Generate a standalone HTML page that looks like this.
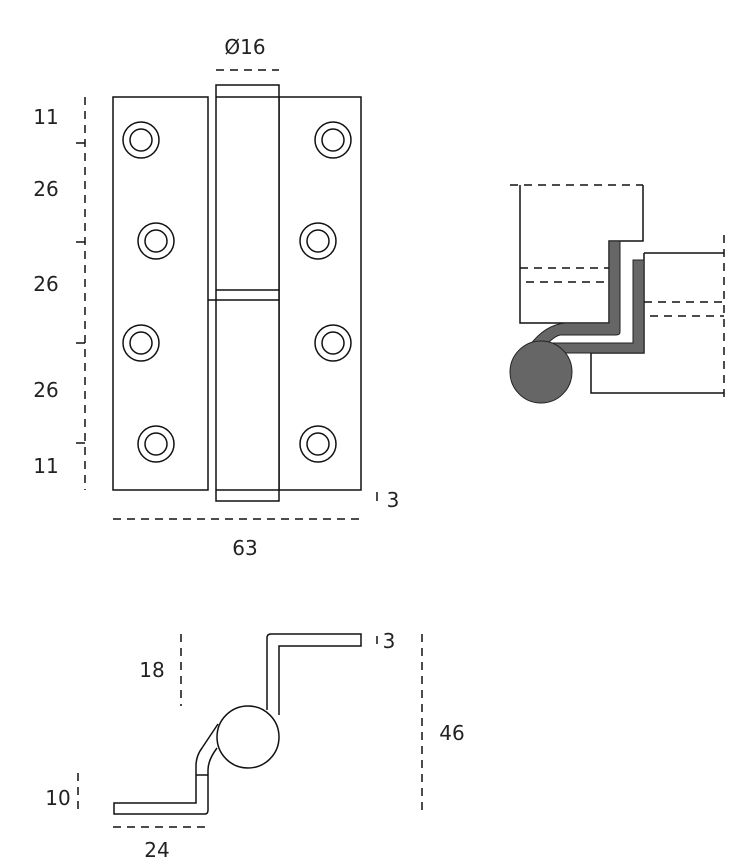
<!DOCTYPE html>
<html><head><meta charset="utf-8"><style>
html,body{margin:0;padding:0;background:#fff;}
svg{display:block;}
text{font-family:"DejaVu Sans","Liberation Sans",sans-serif;font-size:20px;fill:#222;}
</style></head><body>
<svg width="740" height="864" viewBox="0 0 740 864" xmlns="http://www.w3.org/2000/svg">
<g fill="none" stroke="#111" stroke-width="1.5">
<!-- front view -->
<rect x="113" y="97" width="95" height="393"/>
<rect x="279" y="97" width="82" height="393"/>
<rect x="216" y="85" width="63" height="416" fill="#fff"/>
<line x1="216" y1="290" x2="279" y2="290"/>
<line x1="208" y1="300" x2="279" y2="300"/>
<line x1="216" y1="97" x2="279" y2="97"/>
<line x1="216" y1="490" x2="279" y2="490"/>
<g>
<circle cx="141" cy="140" r="18"/><circle cx="141" cy="140" r="11"/>
<circle cx="156" cy="241" r="18"/><circle cx="156" cy="241" r="11"/>
<circle cx="141" cy="343" r="18"/><circle cx="141" cy="343" r="11"/>
<circle cx="156" cy="444" r="18"/><circle cx="156" cy="444" r="11"/>
<circle cx="333" cy="140" r="18"/><circle cx="333" cy="140" r="11"/>
<circle cx="318" cy="241" r="18"/><circle cx="318" cy="241" r="11"/>
<circle cx="333" cy="343" r="18"/><circle cx="333" cy="343" r="11"/>
<circle cx="318" cy="444" r="18"/><circle cx="318" cy="444" r="11"/>
</g>
<g stroke-dasharray="8,6">
<line x1="85" y1="97" x2="85" y2="490"/>
<line x1="216" y1="70" x2="279" y2="70"/>
<line x1="113" y1="519" x2="361" y2="519"/>
</g>
<line x1="76" y1="143" x2="85" y2="143"/>
<line x1="76" y1="242" x2="85" y2="242"/>
<line x1="76" y1="343" x2="85" y2="343"/>
<line x1="76" y1="443" x2="85" y2="443"/>
<line x1="377" y1="492" x2="377" y2="501"/>

<!-- side view -->
<path d="M520 185 V323 H609 V241 H643 V185"/>
<path d="M644 253 H724 M644 253 V353 H591 V393 H724"/>
<g stroke-dasharray="8,6">
<line x1="510" y1="185" x2="643" y2="185"/>
<line x1="520" y1="268" x2="609" y2="268"/>
<line x1="526" y1="282" x2="609" y2="282"/>
<line x1="644" y1="302" x2="724" y2="302"/>
<line x1="650" y1="316" x2="724" y2="316"/>
<line x1="724" y1="235" x2="724" y2="402"/>
</g>
</g>
<g fill="#666" stroke="#222" stroke-width="1">
<path d="M609 241 H620 V332 Q620 335 616 335 H560 Q555 336 548 343 L530 345 Q545 325 565 323 H609 Z"/>
<path d="M633 260 H644 V353 H563 L553 343 H633 Z"/>
<circle cx="541" cy="372" r="31"/>
</g>

<!-- bottom view -->
<g fill="none" stroke="#111" stroke-width="1.5">
<path d="M279 715 V646 H361 V634 H271 Q267 634 267 638 V710"/>
<circle cx="248" cy="737" r="31"/>
<path d="M218 724 L202 748 Q196 756 196 766 V803 H114 V814 H205 Q208 814 208 810 V770 Q208 760 217 748"/>
<line x1="196" y1="775" x2="208" y2="775"/>
<g stroke-dasharray="8,6">
<line x1="181" y1="634" x2="181" y2="706"/>
<line x1="422" y1="634" x2="422" y2="815"/>
<line x1="78" y1="773" x2="78" y2="815"/>
<line x1="113" y1="827" x2="205" y2="827"/>
</g>
<line x1="377" y1="636" x2="377" y2="644"/>
</g>

<!-- labels -->
<text x="245" y="54" text-anchor="middle">Ø16</text>
<text x="46" y="124" text-anchor="middle">11</text>
<text x="46" y="196" text-anchor="middle">26</text>
<text x="46" y="291" text-anchor="middle">26</text>
<text x="46" y="397" text-anchor="middle">26</text>
<text x="46" y="473" text-anchor="middle">11</text>
<text x="393" y="507" text-anchor="middle">3</text>
<text x="245" y="555" text-anchor="middle">63</text>
<text x="152" y="677" text-anchor="middle">18</text>
<text x="389" y="648" text-anchor="middle">3</text>
<text x="452" y="740" text-anchor="middle">46</text>
<text x="58" y="805" text-anchor="middle">10</text>
<text x="157" y="857" text-anchor="middle">24</text>
</svg>
</body></html>
